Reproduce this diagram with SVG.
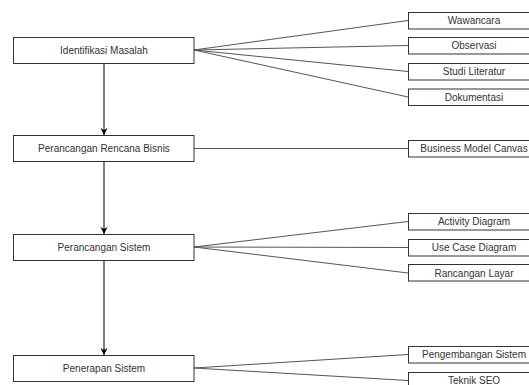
<svg xmlns="http://www.w3.org/2000/svg" width="529" height="385" viewBox="0 0 529 385">
<defs>
<style>
.box{fill:#fff;stroke:#333;stroke-width:1}
.t{font-family:"Liberation Sans",Arial,sans-serif;font-size:10px;fill:#333;text-anchor:middle}
.c{stroke:#555;stroke-width:1;fill:none}
.a{stroke:#000;stroke-width:1;fill:none;marker-end:url(#ah)}
</style>
<marker id="ah" markerWidth="8" markerHeight="8" refX="7" refY="4" orient="auto" markerUnits="userSpaceOnUse">
<path d="M0,0.5 L7,4 L0,7.5 L2,4 Z" fill="#000"/>
</marker>
</defs>
<rect width="529" height="385" fill="#fff"/>
<g id="connectors">
<line class="c" x1="194" y1="50" x2="408" y2="20.5"/>
<line class="c" x1="194" y1="50" x2="408" y2="45.5"/>
<line class="c" x1="194" y1="50" x2="408" y2="71.5"/>
<line class="c" x1="194" y1="50" x2="408" y2="97"/>
<line class="c" x1="194" y1="148.5" x2="408" y2="148.5"/>
<line class="c" x1="194" y1="247" x2="408" y2="221.5"/>
<line class="c" x1="194" y1="247" x2="408" y2="247.5"/>
<line class="c" x1="194" y1="247" x2="408" y2="273"/>
<line class="c" x1="194" y1="368" x2="408" y2="354.5"/>
<line class="c" x1="194" y1="368" x2="408" y2="380.5"/>
<line class="a" x1="104" y1="63" x2="104" y2="135"/>
<line class="a" x1="104" y1="162" x2="104" y2="234"/>
<line class="a" x1="104" y1="260" x2="104" y2="355"/>
</g>
<g id="identifikasi"><rect class="box" x="13.5" y="37.5" width="180.5" height="26"/><text class="t" x="104" y="54">Identifikasi Masalah</text></g>
<g id="rencana"><rect class="box" x="13.5" y="135.5" width="180.5" height="26"/><text class="t" x="104" y="152">Perancangan Rencana Bisnis</text></g>
<g id="sistem"><rect class="box" x="13.5" y="234.5" width="180.5" height="26"/><text class="t" x="104" y="251">Perancangan Sistem</text></g>
<g id="penerapan"><rect class="box" x="13.5" y="355.5" width="180.5" height="26"/><text class="t" x="104" y="372">Penerapan Sistem</text></g>
<g id="wawancara"><rect class="box" x="408.5" y="12.5" width="132" height="16.5"/><text class="t" x="474" y="24">Wawancara</text></g>
<g id="observasi"><rect class="box" x="408.5" y="37.5" width="132" height="16.5"/><text class="t" x="474" y="49">Observasi</text></g>
<g id="studi"><rect class="box" x="408.5" y="63.5" width="132" height="16.5"/><text class="t" x="474" y="75">Studi Literatur</text></g>
<g id="dokumentasi"><rect class="box" x="408.5" y="89" width="132" height="16.5"/><text class="t" x="474" y="100.5">Dokumentasi</text></g>
<g id="bmc"><rect class="box" x="408.5" y="140.5" width="132" height="16.5"/><text class="t" x="474" y="152">Business Model Canvas</text></g>
<g id="activity"><rect class="box" x="408.5" y="213.5" width="132" height="16.5"/><text class="t" x="474" y="225">Activity Diagram</text></g>
<g id="usecase"><rect class="box" x="408.5" y="239.5" width="132" height="16.5"/><text class="t" x="474" y="251">Use Case Diagram</text></g>
<g id="layar"><rect class="box" x="408.5" y="264.5" width="132" height="16.5"/><text class="t" x="474" y="276.5">Rancangan Layar</text></g>
<g id="pengembangan"><rect class="box" x="408.5" y="346.5" width="132" height="16.5"/><text class="t" x="474" y="358">Pengembangan Sistem</text></g>
<g id="seo"><rect class="box" x="408.5" y="372.5" width="132" height="16.5"/><text class="t" x="474" y="384">Teknik SEO</text></g>
</svg>
